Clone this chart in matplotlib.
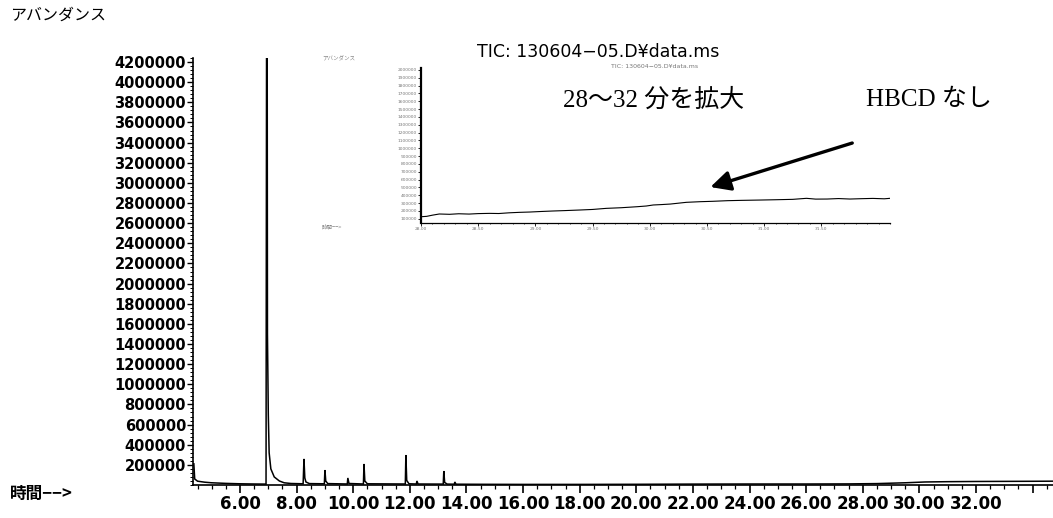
import matplotlib
matplotlib.use("Agg")
import matplotlib.pyplot as plt
import numpy as np
from matplotlib.ticker import MultipleLocator, FixedLocator

# ---------------- data ----------------
tic_time = [4.37, 4.40, 4.50, 4.75, 5.00, 5.50, 6.00, 6.50, 6.92, 6.94, 6.96, 6.97,
            7.00, 7.03, 7.09, 7.21, 7.39, 7.56, 7.80, 8.23, 8.26, 8.29, 8.33, 8.45,
            8.98, 9.00, 9.03, 9.10, 9.79, 9.81, 9.85, 10.36, 10.38, 10.41, 10.50,
            11.84, 11.86, 11.89, 11.97, 12.23, 12.25, 12.29, 13.18, 13.20, 13.23,
            13.32, 13.57, 13.59, 13.63, 14.50, 16.00, 18.00, 20.00, 22.00, 24.00,
            26.00, 27.50, 28.50, 29.50, 30.20, 31.00, 32.00, 33.00, 34.00, 34.72]
tic_abund = [210000, 60000, 38000, 28000, 22000, 16000, 12000, 10000, 9000, 4800000, 4800000, 1500000,
             700000, 320000, 160000, 80000, 40000, 22000, 15000, 12000, 259000, 70000, 30000, 14000,
             12000, 149000, 40000, 14000, 10000, 70000, 15000, 10000, 209000, 40000, 12000,
             10000, 298000, 45000, 12000, 10000, 40000, 10000, 9000, 139000, 25000,
             9000, 8000, 30000, 8000, 7000, 6000, 6000, 7000, 9000, 10000,
             10000, 11000, 14000, 22000, 30000, 33000, 35000, 36000, 37000, 38000]

zoom_time = [28.00, 28.05, 28.10, 28.16, 28.25, 28.33, 28.42, 28.50, 28.60, 28.68, 28.77,
             28.86, 28.95, 29.05, 29.15, 29.25, 29.39, 29.50, 29.62, 29.75, 29.89, 29.97,
             30.03, 30.10, 30.18, 30.25, 30.32, 30.44, 30.55, 30.68, 30.80, 30.96, 31.10,
             31.25, 31.37, 31.45, 31.55, 31.65, 31.75, 31.84, 31.95, 32.05, 32.10]
zoom_abund = [125000, 130000, 145000, 160000, 156000, 163000, 159000, 165000, 168000, 166000, 175000,
              181000, 185000, 192000, 198000, 203000, 211000, 218000, 232000, 240000, 253000, 262000,
              275000, 280000, 287000, 298000, 309000, 317000, 322000, 330000, 334000, 338000, 342000,
              347000, 360000, 350000, 351000, 357000, 351000, 355000, 359000, 354000, 360000]

main_yticks = list(range(200000, 4200001, 200000))
main_xticks = [6, 8, 10, 12, 14, 16, 18, 20, 22, 24, 26, 28, 30, 32, 34]
main_xlabels = ['6.00', '8.00', '10.00', '12.00', '14.00', '16.00', '18.00', '20.00',
                '22.00', '24.00', '26.00', '28.00', '30.00', '32.00', '']
zoom_yticks = list(range(100000, 2000001, 100000))
zoom_xticks = [28.0, 28.5, 29.0, 29.5, 30.0, 30.5, 31.0, 31.5]
zoom_xlabels = ['28.00', '28.50', '29.00', '29.50', '30.00', '30.50', '31.00', '31.50']

title_text = 'TIC: 130604\u221205.D\u00a5data.ms'
ylabel_text = 'アバンダンス'
xlabel_text = '時間\u2212\u2212>'
note_zoom = '28～32 分を拡大'
note_hbcd = 'HBCD なし'

# ---------------- figure ----------------
W, H = 1053, 518
fig = plt.figure(figsize=(W / 100, H / 100), dpi=100)
fig.patch.set_facecolor('white')

def fx(x):
    return x / W

def fy(y):
    return 1 - y / H

JP = ['Noto Sans CJK JP', 'DejaVu Sans']
SERIF_JP = ['Liberation Serif', 'Noto Sans CJK JP']

# main axes
L, R, T, B = 193, 1053, 58, 485
ax = fig.add_axes([fx(L), fy(B), (R - L) / W, (B - T) / H])
ax.plot(tic_time, tic_abund, color='black', lw=1.1, solid_joinstyle='miter')
ax.set_xlim(4.34, 34.72)
ax.set_ylim(0, 4240000)
for s in ['top', 'right']:
    ax.spines[s].set_visible(False)
ax.spines['left'].set_linewidth(1.2)
ax.spines['bottom'].set_linewidth(1.2)
ax.set_yticks(main_yticks)
ax.set_yticklabels([str(v) for v in main_yticks], fontsize=10.5, fontweight='bold',
                   family='DejaVu Sans')
ax.yaxis.set_minor_locator(MultipleLocator(40000))
ax.set_xticks(main_xticks)
ax.set_xticklabels(main_xlabels, fontsize=12, fontweight='bold', family='DejaVu Sans')
ax.xaxis.set_minor_locator(MultipleLocator(0.5))
ax.tick_params(axis='y', which='major', length=4, width=1, pad=1)
ax.tick_params(axis='y', which='minor', length=2, width=0.7)
ax.tick_params(axis='x', which='major', length=6, width=1.2, pad=1)
ax.tick_params(axis='x', which='minor', length=3, width=0.9)

fig.text(fx(10), fy(15), ylabel_text, fontsize=11.5, family=JP, va='center', ha='left')
fig.text(fx(10), fy(494), xlabel_text, fontsize=12, family=JP, fontweight='bold',
         va='center', ha='left')
fig.text(fx(598), fy(52), title_text, fontsize=12.5, family='DejaVu Sans',
         va='center', ha='center')

# inset (zoomed 28-32 min)
iL, iR, iT, iB = 421, 890, 68, 223
ia = fig.add_axes([fx(iL), fy(iB), (iR - iL) / W, (iB - iT) / H])
ia.patch.set_alpha(0)
ia.plot(zoom_time, zoom_abund, color='black', lw=0.8)
ia.set_xlim(28.0, 32.1)
ia.set_ylim(45000, 2024000)
for s in ['top', 'right']:
    ia.spines[s].set_visible(False)
ia.spines['left'].set_linewidth(1.6)
ia.spines['bottom'].set_linewidth(0.9)
ia.set_yticks(zoom_yticks)
ia.set_yticklabels([str(v) for v in zoom_yticks], fontsize=3.2, color='#777777')
ia.set_xticks(zoom_xticks)
ia.set_xticklabels(zoom_xlabels, fontsize=3.2, color='#777777')
ia.xaxis.set_minor_locator(MultipleLocator(0.1))
ia.tick_params(axis='both', which='major', length=2, width=0.6, pad=1)
ia.tick_params(axis='x', which='minor', length=1, width=0.5)

fig.text(fx(322), fy(59), ylabel_text, fontsize=4, family=JP, color='#888888',
         va='center', ha='left')
fig.text(fx(655), fy(66), title_text, fontsize=4.5, family='DejaVu Sans', color='#777777',
         va='center', ha='center')
fig.text(fx(322), fy(226), xlabel_text, fontsize=4, family=JP, color='#888888',
         va='center', ha='left')

# annotations
fig.text(fx(563), fy(100), note_zoom, fontsize=18, family=SERIF_JP, va='center', ha='left')
fig.text(fx(866), fy(100), note_hbcd, fontsize=18, family=SERIF_JP, va='center', ha='left')
ia.annotate('', xy=(30.53, 504000), xytext=(31.77, 1066000), xycoords='data',
            arrowprops=dict(arrowstyle='-|>,head_length=0.6,head_width=0.3',
                            mutation_scale=20, lw=2.4, color='black',
                            shrinkA=0, shrinkB=0))

fig.savefig('out.png', dpi=100, facecolor='white')
